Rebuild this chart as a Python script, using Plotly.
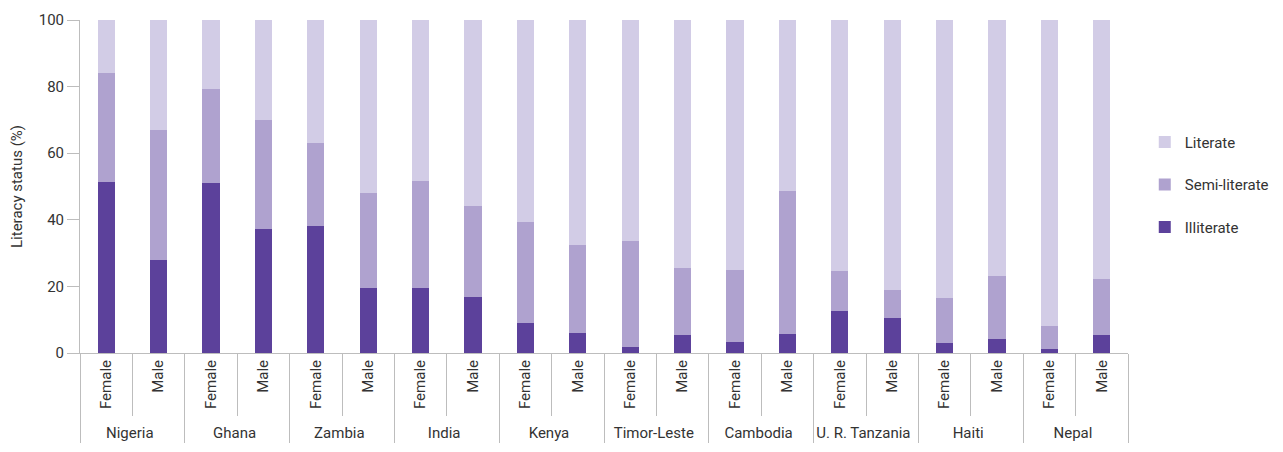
import plotly.graph_objects as go

countries = ["Nigeria", "Ghana", "Zambia", "India", "Kenya", "Timor-Leste",
             "Cambodia", "U. R. Tanzania", "Haiti", "Nepal"]
genders = ["Female", "Male"]

# cumulative tops (illiterate top, semi-literate top)
illiterate = [51.5, 28.0, 51.2, 37.1, 38.0, 19.6, 19.6, 16.9, 9.1, 6.1,
              1.9, 5.5, 3.4, 5.8, 12.7, 10.6, 3.1, 4.3, 1.3, 5.5]
semi_top = [84.0, 67.1, 79.4, 70.1, 63.2, 47.9, 51.8, 44.0, 39.2, 32.3,
            33.5, 25.6, 25.0, 48.8, 24.7, 19.0, 16.6, 23.2, 8.2, 22.3]

semi = [round(s - i, 1) for s, i in zip(semi_top, illiterate)]
literate = [round(100 - s, 1) for s in semi_top]

xc = [c for c in countries for g in genders]
xg = [g for c in countries for g in genders]

FONT = "Roboto, sans-serif"
TXT = "#333333"
GRID = "#bdbdbd"

fig = go.Figure()
fig.add_trace(go.Bar(x=[xc, xg], y=illiterate, name="Illiterate", legendrank=3,
                     marker=dict(color="#5c419b", line=dict(width=0)), legendgroup="a"))
fig.add_trace(go.Bar(x=[xc, xg], y=semi, name="Semi-literate", legendrank=2,
                     marker=dict(color="#afa2cf", line=dict(width=0)), legendgroup="b"))
fig.add_trace(go.Bar(x=[xc, xg], y=literate, name="Literate", legendrank=1,
                     marker=dict(color="#d2cce6", line=dict(width=0)), legendgroup="c"))

fig.update_layout(
    width=1275, height=444,
    barmode="stack", bargap=0.675,
    plot_bgcolor="white", paper_bgcolor="white",
    font=dict(family=FONT, size=15, color=TXT),
    margin=dict(l=72, r=155, t=12, b=99, autoexpand=False),
    legend=dict(traceorder="grouped", x=1.016, xanchor="left", y=0.505, yanchor="middle",
                tracegroupgap=20, font=dict(size=15, color=TXT)),
    xaxis=dict(type="multicategory", showline=True, linecolor=GRID, linewidth=1,
               ticks="outside", ticklen=62, tickcolor=GRID, tickwidth=1,
               tickangle=-90, showdividers=True, dividercolor=GRID, dividerwidth=1,
               tickfont=dict(size=15, color=TXT), automargin=False),
    yaxis=dict(range=[0, 100], tickvals=[0, 20, 40, 60, 80, 100], showgrid=False,
               showline=True, linecolor=GRID, linewidth=1, ticks="outside",
               ticklen=12, tickcolor=GRID, zeroline=False,
               title=dict(text="Literacy status (%)", standoff=14, font=dict(size=15, color=TXT)),
               automargin=False),
)

fig.write_html("out.html")
